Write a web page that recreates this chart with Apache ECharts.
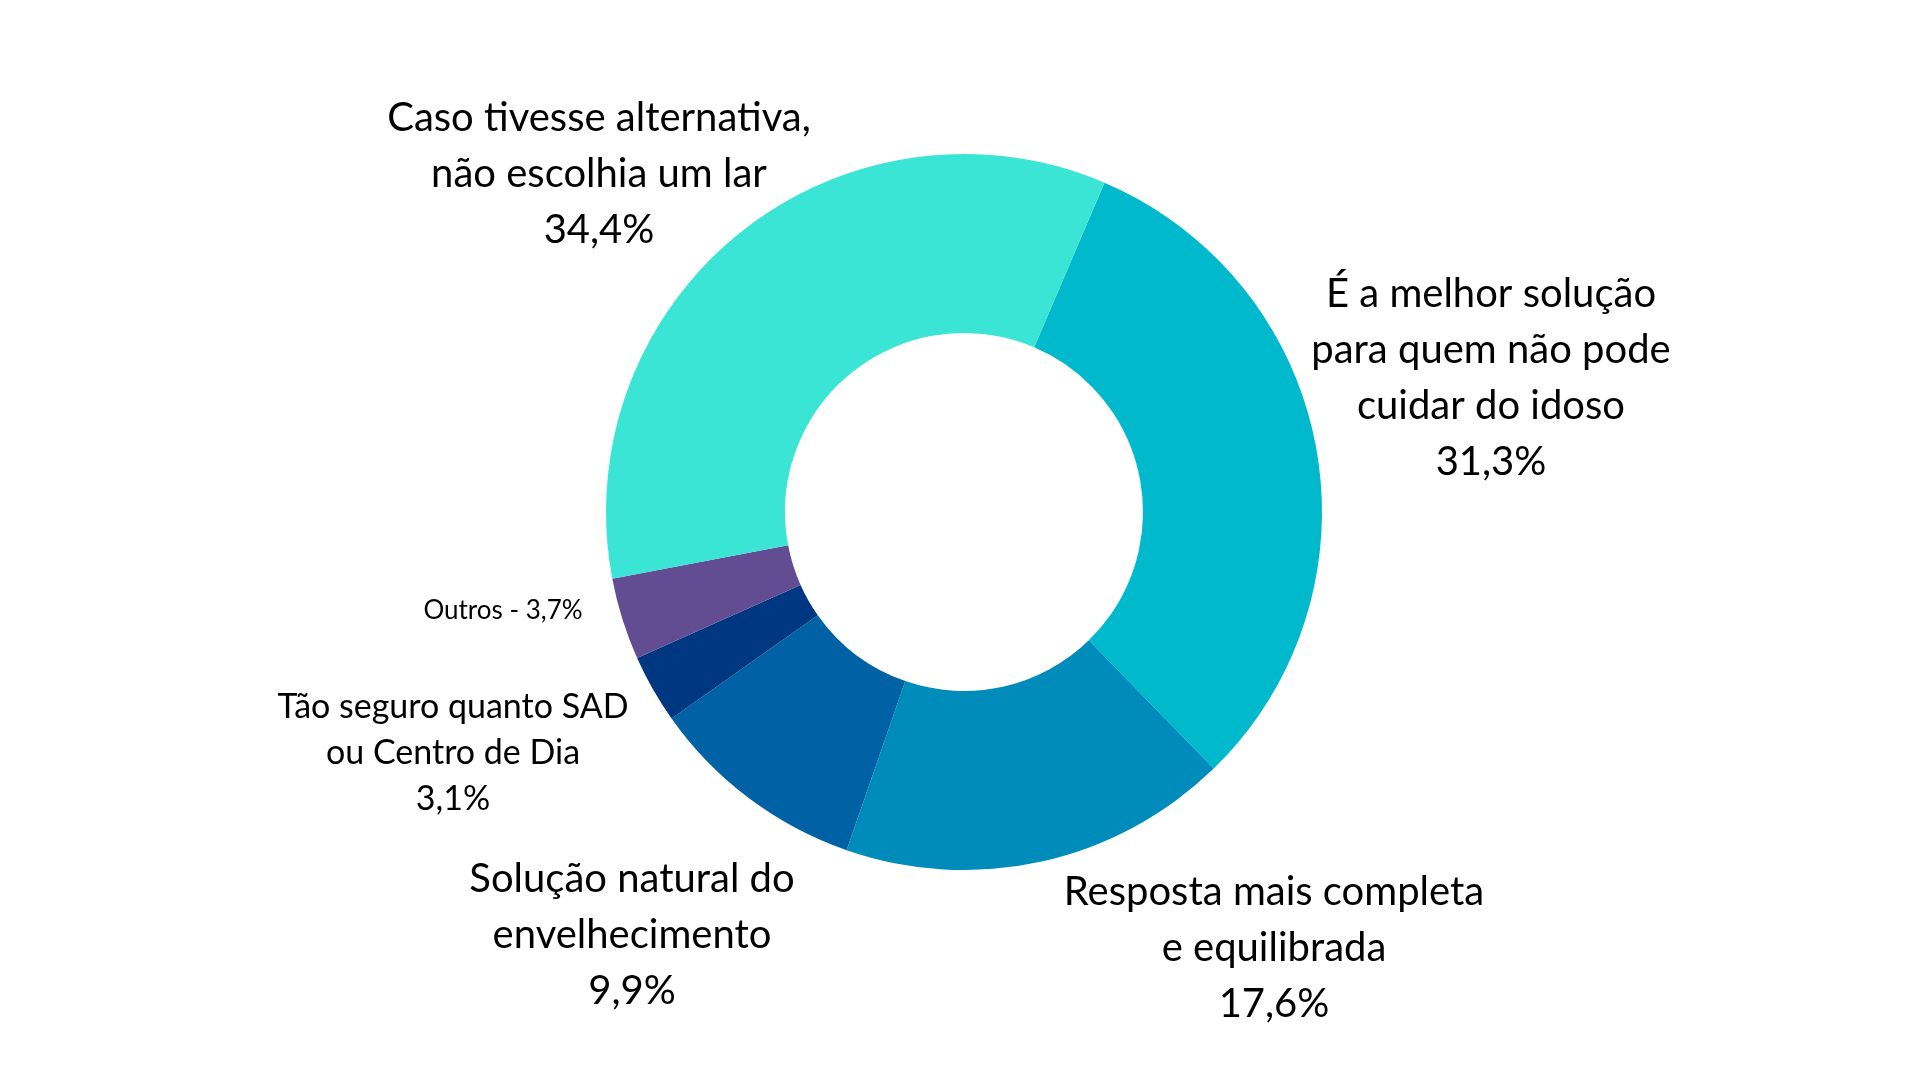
<!DOCTYPE html>
<html>
<head>
<meta charset="utf-8">
<script src="https://cdn.jsdelivr.net/npm/echarts@6/dist/echarts.min.js"></script>
<style>
html,body{margin:0;padding:0;background:#fff;}
#c{width:1920px;height:1080px;}
</style>
</head>
<body>
<div id="c"></div>
<script>
var categories = [
  "É a melhor solução\npara quem não pode\ncuidar do idoso",
  "Resposta mais completa\ne equilibrada",
  "Solução natural do\nenvelhecimento",
  "Tão seguro quanto SAD\nou Centro de Dia",
  "Outros",
  "Caso tivesse alternativa,\nnão escolhia um lar"
];
var values = [31.3, 17.6, 9.9, 3.1, 3.7, 34.4];
var colors = ["#00B9CC", "#008CBB", "#0062A5", "#003781", "#634D92", "#3BE5D6"];

// label anchor points (layout only)
var labelPos = [
  [1491, 378], [1274, 948], [632, 935], [453, 753], [503, 611], [599, 174]
];

function fmt(v){ return v.toFixed(1).replace('.', ',') + '%'; }

var data = categories.map(function(n, i){
  var item = { name: n, value: values[i], itemStyle: { color: colors[i] } };
  if (i === 3) item.label = { fontSize: 34, lineHeight: 46 };
  if (i === 4) item.label = { fontSize: 26, lineHeight: 32 };
  return item;
});

var chart = echarts.init(document.getElementById('c'));
chart.setOption({
  backgroundColor: '#ffffff',
  animation: false,
  series: [{
    type: 'pie',
    center: [964, 512],
    radius: [179, 358],
    startAngle: 66.9,
    clockwise: true,
    avoidLabelOverlap: false,
    data: data,
    itemStyle: { borderWidth: 0 },
    label: {
      show: true,
      position: 'outside',
      fontFamily: 'Lato',
      fontSize: 40,
      lineHeight: 56,
      color: '#000000',
      align: 'center',
      formatter: function(p){
        if (p.dataIndex === 4) return p.name + ' - ' + fmt(p.value);
        return p.name + '\n' + fmt(p.value);
      }
    },
    labelLine: { show: false },
    labelLayout: function(p){
      var pos = labelPos[p.dataIndex];
      return { x: pos[0], y: pos[1], align: 'center', verticalAlign: 'middle', hideOverlap: false };
    }
  }]
});
</script>
</body>
</html>
